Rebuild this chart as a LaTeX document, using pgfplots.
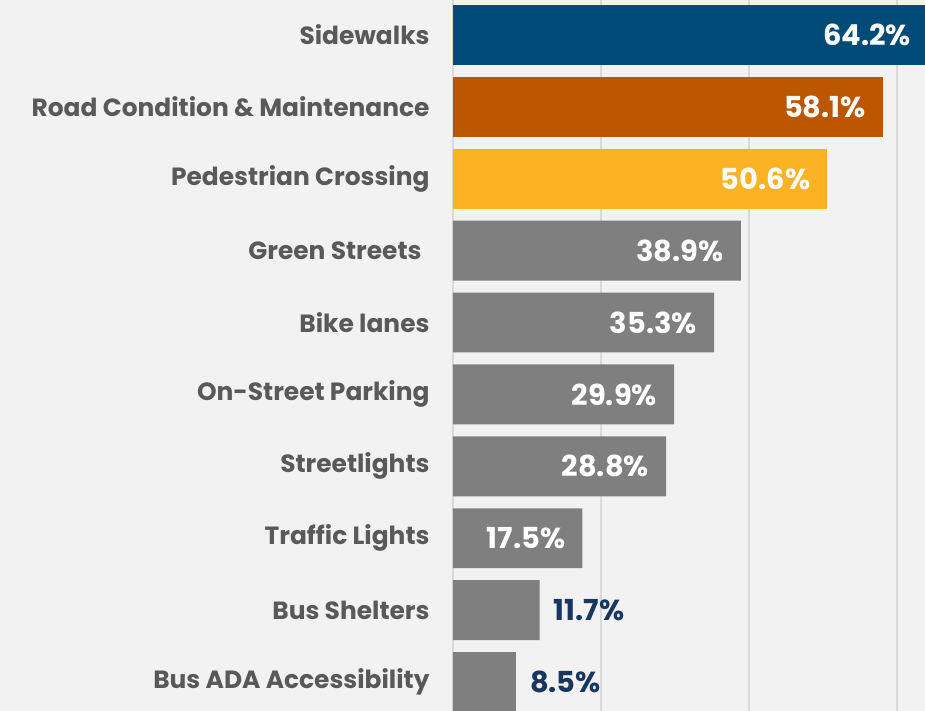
\documentclass[border=0pt]{standalone}
\usepackage{pgfplots}
\pgfplotsset{compat=1.18}
\usepackage{fontspec}
\setmainfont{Poppins}
\definecolor{bgc}{HTML}{F2F2F2}
\definecolor{gridc}{HTML}{D9D9D9}
\definecolor{labc}{HTML}{595959}
\definecolor{bluec}{HTML}{004A77}
\definecolor{orangec}{HTML}{BA5700}
\definecolor{yellowc}{HTML}{FBB223}
\definecolor{grayc}{HTML}{7F7F7F}
\definecolor{navyc}{HTML}{17375E}
\begin{document}
\begin{tikzpicture}
\fill[bgc] (-453bp,0) rectangle (472bp,711bp);
\begin{axis}[
  at={(0,0)}, anchor=south west,
  scale only axis, width=475bp, height=711bp,
  xbar, bar shift=0pt, bar width=0.833,
  xmin=0, xmax=64.2, ymin=-0.486, ymax=9.403,
  y dir=reverse, enlargelimits=false,
  axis line style={draw=none},
  major tick style={draw=none},
  xtick={0,20,40,60}, xticklabels={},
  xmajorgrids, grid style={gridc, line width=1.5bp},
  ytick={0,...,9},
  yticklabels={Sidewalks, Road Condition \& Maintenance, Pedestrian Crossing,
    Green Streets\kern8bp, Bike lanes, On-Street Parking, Streetlights,
    Traffic Lights, Bus Shelters, Bus ADA Accessibility},
  yticklabel style={inner sep=0pt, xshift=-19bp, text=labc,
    font=\fontsize{25}{30}\selectfont\bfseries},
  point meta=x,
  /pgf/number format/assume math mode=true,
  nodes near coords={\pgfmathprintnumber[fixed,fixed zerofill,precision=1]{\pgfplotspointmeta}\%},
  every node near coord/.append style={anchor=east, inner sep=0pt, xshift=-17bp,
    text=white, font=\fontsize{29}{34}\selectfont\bfseries},
]
\addplot[fill=bluec, draw=none] coordinates {(64.2,0)};
\addplot[fill=orangec, draw=none] coordinates {(58.1,1)};
\addplot[fill=yellowc, draw=none] coordinates {(50.6,2)};
\addplot[fill=grayc, draw=none] coordinates {(38.9,3) (35.3,4) (29.9,5) (28.8,6) (17.5,7)};
\addplot[fill=grayc, draw=none,
  every node near coord/.append style={anchor=west, xshift=31bp, text=navyc}]
  coordinates {(11.7,8) (8.5,9)};
\end{axis}
\pgfresetboundingbox
\useasboundingbox (-453bp,0) rectangle (472bp,711bp);
\end{tikzpicture}
\end{document}
